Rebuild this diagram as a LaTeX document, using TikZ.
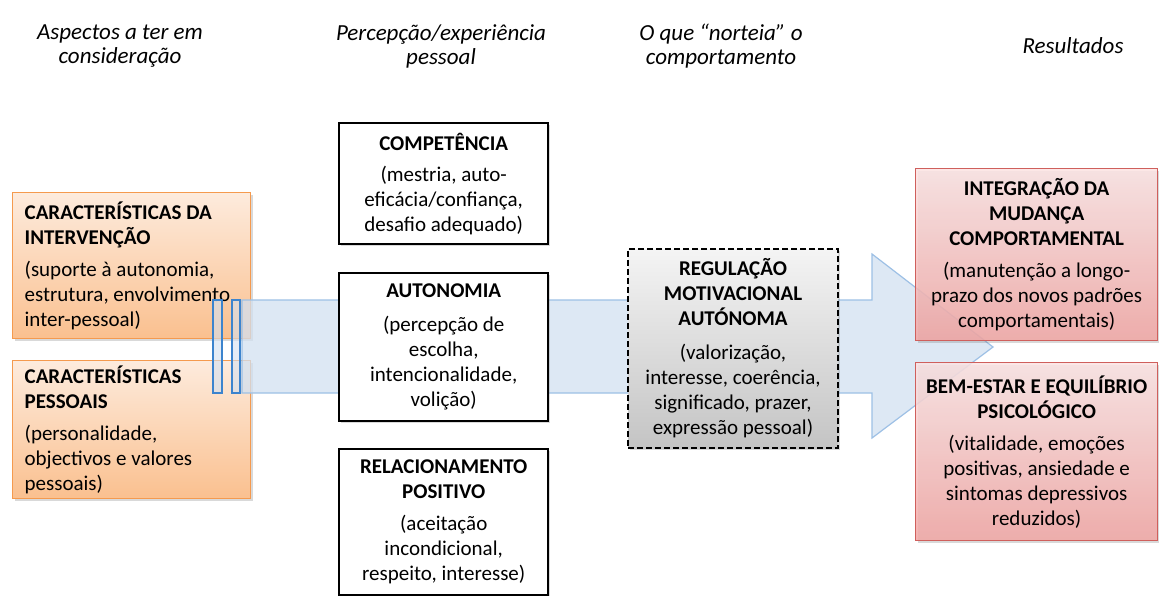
\documentclass[tikz,border=0pt]{standalone}
\usepackage{fontspec}
\setmainfont{Carlito}
\usetikzlibrary{shadows}
\definecolor{orTop}{HTML}{FDEBDD}
\definecolor{orBot}{HTML}{FAC08F}
\definecolor{orLine}{HTML}{F59A4E}
\definecolor{rdTop}{HTML}{FBE3E3}
\definecolor{rdBot}{HTML}{F1A5A3}
\definecolor{rdLine}{HTML}{CF5F5C}
\definecolor{gyTop}{HTML}{F4F4F4}
\definecolor{gyBot}{HTML}{C4C4C4}
\definecolor{bandFill}{HTML}{D2E0F0}
\definecolor{bandLine}{HTML}{9DC0E5}
\definecolor{stripeLine}{HTML}{3C84CE}
\tikzset{
  txt/.style={font=\fontsize{21}{25}\selectfont},
  hdr/.style={font=\fontsize{23}{24}\selectfont\itshape, align=center, inner sep=0pt},
  shad/.style={drop shadow={opacity=0.3, shadow xshift=2pt, shadow yshift=-2pt}},
  orbox/.style={txt, shad, draw=orLine, line width=1.3pt, top color=orTop, bottom color=orBot,
    anchor=north west, minimum width=238pt, align=flush left, text width=214pt, inner xsep=12pt, inner ysep=0pt},
  blbox/.style={txt, draw=black, line width=2.4pt, fill=white, shad,
    anchor=north west, minimum width=209pt, align=flush center, text width=200pt, inner xsep=4pt, inner ysep=0pt},
  gybox/.style={txt, draw=black, line width=2pt, dash pattern=on 6pt off 3pt, shad, top color=gyTop, bottom color=gyBot,
    anchor=north west, minimum width=210pt, minimum height=199pt, align=flush center, text width=200pt, inner xsep=5pt, inner ysep=0pt},
  rdbox/.style={txt, draw=rdLine, line width=1.3pt, top color=rdTop, bottom color=rdBot, fill opacity=0.85, text opacity=1, draw opacity=1, shad,
    anchor=north west, minimum width=242pt, align=flush center, text width=232pt, inner xsep=5pt, inner ysep=0pt},
  band/.style={fill=bandFill, fill opacity=0.75, draw=bandLine, line width=1.2pt},
  stripe/.style={fill=bandFill, fill opacity=0.6, draw=stripeLine, line width=1.6pt}
}
\begin{document}
\begin{tikzpicture}[x=1pt,y=-1pt]
\useasboundingbox (0,0) rectangle (1159,595);
% headers
\node[hdr] (h1) at (120,46) {Aspectos a ter em\\ consideração};
\node[hdr] (h2) at (441,46) {Percepção/experiência\\ pessoal};
\node[hdr] (h3) at (721,46) {O que “norteia” o\\ comportamento};
\node[hdr] (h4) at (1073,46) {Resultados};
% orange boxes
\node[orbox, minimum height=146pt] (ci) at (12,192)
  {\textbf{CARACTERÍSTICAS DA}\\ \textbf{INTERVENÇÃO}\\[7pt] (suporte à autonomia,\\ estrutura, envolvimento\\ inter-pessoal)};
\node[orbox, minimum height=138pt] (cp) at (12,360)
  {\textbf{CARACTERÍSTICAS}\\ \textbf{PESSOAIS}\\[7pt] (personalidade,\\ objectivos e valores\\ pessoais)};
% big striped arrow
\draw[band] (242,300) -- (872,300) -- (872,254) -- (993,347) -- (872,438) -- (872,393) -- (242,393) -- cycle;
\draw[stripe] (213,300) rectangle (222,393);
\draw[stripe] (232,300) rectangle (240,393);
% black boxes
\node[blbox, minimum height=121pt] (comp) at (338,122)
  {\textbf{COMPETÊNCIA}\\[6pt] (mestria, auto-\\ eficácia/confiança,\\ desafio adequado)};
\node[blbox, minimum height=148pt] (auto) at (338,272)
  {\textbf{AUTONOMIA}\\[9pt] (percepção de\\ escolha,\\ intencionalidade,\\ volição)};
\node[blbox, minimum height=146pt] (rel) at (338,448)
  {\textbf{RELACIONAMENTO}\\ \textbf{POSITIVO}\\[7pt] (aceitação\\ incondicional,\\ respeito, interesse)};
% grey box
\node[gybox] (reg) at (627,248)
  {\textbf{REGULAÇÃO}\\ \textbf{MOTIVACIONAL}\\ \textbf{AUTÓNOMA}\\[9pt] (valorização,\\ interesse, coerência,\\ significado, prazer,\\ expressão pessoal)};
% red boxes
\node[rdbox, minimum height=172pt] (int) at (915,168)
  {\textbf{INTEGRAÇÃO DA}\\ \textbf{MUDANÇA}\\ \textbf{COMPORTAMENTAL}\\[7pt] (manutenção a longo-\\ prazo dos novos padrões\\ comportamentais)};
\node[rdbox, minimum height=178pt] (bem) at (915,362)
  {\textbf{BEM-ESTAR E EQUILÍBRIO}\\ \textbf{PSICOLÓGICO}\\[7pt] (vitalidade, emoções\\ positivas, ansiedade e\\ sintomas depressivos\\ reduzidos)};
\end{tikzpicture}
\end{document}
